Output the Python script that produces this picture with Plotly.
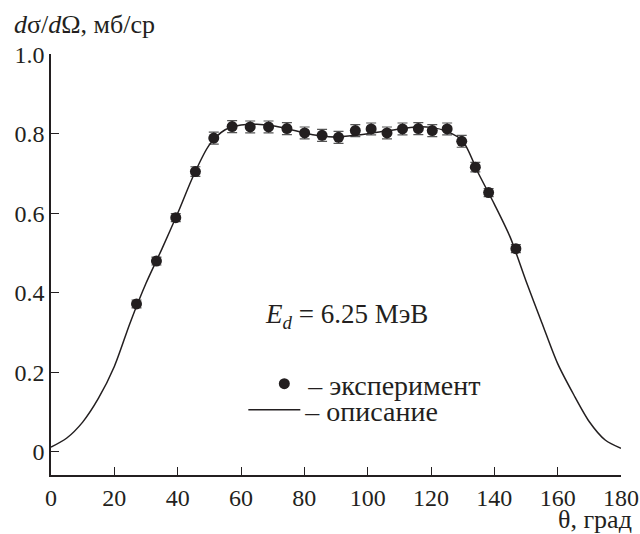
import plotly.graph_objects as go

# Experimental points
theta_exp = [27.0, 33.3, 39.4, 45.6, 51.4, 57.2, 62.9, 68.7, 74.5, 80.1, 85.6, 90.8,
             96.1, 101.1, 106.1, 111.0, 116.0, 120.4, 125.1, 129.7, 134.0, 138.2, 146.8]
sigma_exp = [0.372, 0.480, 0.589, 0.705, 0.789, 0.818, 0.817, 0.817, 0.813, 0.802, 0.796, 0.791,
             0.808, 0.812, 0.802, 0.812, 0.813, 0.808, 0.812, 0.781, 0.716, 0.652, 0.511]
sigma_err = [0.010, 0.010, 0.010, 0.012, 0.015, 0.015, 0.015, 0.015, 0.015, 0.015, 0.015, 0.015,
             0.015, 0.015, 0.015, 0.015, 0.015, 0.015, 0.015, 0.015, 0.012, 0.010, 0.010]

# Description curve
theta_fit = [0, 5, 10, 15, 20, 25, 30, 35, 40, 45, 50, 55, 60, 65, 70, 75, 80, 85, 90, 95,
             100, 105, 110, 115, 120, 125, 130, 135, 140, 145, 150, 155, 160, 165, 170, 175, 180]
sigma_fit = [0.012, 0.035, 0.075, 0.135, 0.215, 0.325, 0.424, 0.51, 0.60, 0.695, 0.772, 0.81,
             0.822, 0.824, 0.82, 0.812, 0.802, 0.795, 0.792, 0.795, 0.800, 0.806, 0.812, 0.817,
             0.816, 0.806, 0.782, 0.70, 0.623, 0.54, 0.43, 0.325, 0.222, 0.145, 0.076, 0.03, 0.009]

x_ticks = [0, 20, 40, 60, 80, 100, 120, 140, 160, 180]
y_ticks = [0, 0.2, 0.4, 0.6, 0.8, 1.0]
y_ticklabels = ["0", "0.2", "0.4", "0.6", "0.8", "1.0"]

INK = "#231f20"
FONT = "'Liberation Serif', 'Times New Roman', serif"
FS_TICK = 24
FS_LEG = 28

fig = go.Figure()
fig.add_trace(go.Scatter(
    x=theta_exp, y=sigma_exp, mode="markers", name="– эксперимент", legend="legend",
    marker=dict(color=INK, size=11),
    error_y=dict(type="data", array=sigma_err, color="#555555", thickness=1.2, width=5),
))
fig.add_trace(go.Scatter(
    x=theta_fit, y=sigma_fit, mode="lines", name="– описание", legend="legend2",
    line=dict(color=INK, width=1.5, shape="spline", smoothing=0.8),
))

leg_common = dict(xanchor="left", yanchor="middle", bgcolor="rgba(0,0,0,0)", borderwidth=0,
                  font=dict(family=FONT, size=FS_LEG, color=INK))

fig.update_layout(
    width=640, height=534,
    margin=dict(l=50.5, r=19, t=54, b=59, autoexpand=False),
    paper_bgcolor="white", plot_bgcolor="white",
    font=dict(family=FONT, size=FS_TICK, color=INK),
    showlegend=True,
    legend=dict(x=(260 - 50.5) / 570.5, y=(475 - 384) / 421, itemwidth=38, **leg_common),
    legend2=dict(x=(243 - 50.5) / 570.5, y=(475 - 410) / 421, itemwidth=52, **leg_common),
    xaxis=dict(range=[0, 180], tickvals=x_ticks, ticks="inside", ticklen=8, automargin=False,
               tickwidth=1.2, tickcolor=INK, showline=True, linecolor=INK, linewidth=1.5,
               showgrid=False, zeroline=False, tickfont=dict(family=FONT, size=FS_TICK, color=INK)),
    yaxis=dict(range=[-0.058, 1.0005], tickvals=y_ticks, ticktext=y_ticklabels, automargin=False,
               ticks="inside", ticklen=8, tickwidth=1.2, tickcolor=INK,
               showline=True, linecolor=INK, linewidth=1.5, showgrid=False, zeroline=False,
               tickfont=dict(family=FONT, size=FS_TICK, color=INK)),
    annotations=[
        dict(text="<i>d</i>σ/<i>d</i>Ω, мб/ср", xref="paper", yref="paper",
             x=(11 - 50.5) / 570.5, y=(475 - 25) / 421, xanchor="left", yanchor="middle",
             showarrow=False, font=dict(family=FONT, size=26, color=INK)),
        dict(text="θ, град", xref="paper", yref="paper", x=(634 - 50.5) / 570.5,
             y=(475 - 519) / 421, xanchor="right", yanchor="middle", showarrow=False,
             font=dict(family=FONT, size=26, color=INK)),
        dict(text="<i>E</i><sub><i>d</i></sub> = 6.25 МэВ", xref="x", yref="y",
             x=93.2, y=0.342, xanchor="center", yanchor="middle", showarrow=False,
             font=dict(family=FONT, size=27, color=INK)),
    ],
)

fig.write_html("out.html", config={"displayModeBar": False},
               post_script="document.body.style.margin='0';document.body.style.overflow='hidden';")
